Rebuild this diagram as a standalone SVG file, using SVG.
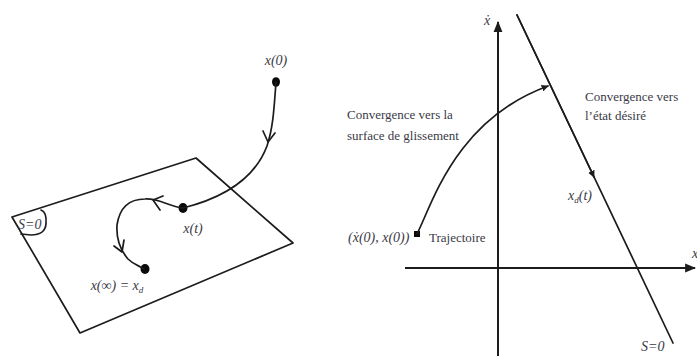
<svg xmlns="http://www.w3.org/2000/svg" width="697" height="356" viewBox="0 0 697 356">
<defs>
<style>
.ln{fill:none;stroke:#1c1c1c;stroke-width:1.7;stroke-linejoin:round;stroke-linecap:round}
.ax{fill:none;stroke:#1c1c1c;stroke-width:2}
.lbl{font-family:"Liberation Serif","DejaVu Serif",serif;font-size:13px;fill:#3a3a46}
.math{font-family:"Liberation Serif","DejaVu Serif",serif;font-size:14px;font-style:italic;fill:#3a3a46}
.dot{fill:#0a0a0a}
</style>
<marker id="tri" viewBox="0 0 10 10" refX="9" refY="5" markerWidth="7" markerHeight="7" markerUnits="userSpaceOnUse" orient="auto">
<path d="M0 0 L10 5 L0 10 Z" fill="#1c1c1c"/>
</marker>
<marker id="tri2" viewBox="0 0 10 10" refX="9" refY="5" markerWidth="11" markerHeight="11" markerUnits="userSpaceOnUse" orient="auto">
<path d="M0 1 L10 5 L0 9 Z" fill="#1c1c1c"/>
</marker>
</defs>
<rect width="697" height="356" fill="#ffffff"/>

<!-- Left: sliding surface plane -->
<g id="plane">
<path class="ln" d="M12 217 L196 158 L293 243 L80 333 Z"/>
<path class="ln" d="M41 210 Q47 212 46 224 Q45 235 31 235 L21 234" stroke-width="1.2"/>
<text class="math" x="18" y="229" font-size="12">S=0</text>
</g>

<g id="x0">
<ellipse class="dot" cx="276" cy="82" rx="4" ry="4.8"/>
<text class="math" x="276" y="65" text-anchor="middle">x(0)</text>
</g>
<g id="xt">
<ellipse class="dot" cx="183" cy="208" rx="4.5" ry="5"/>
<text class="math" x="193" y="233" text-anchor="middle">x(t)</text>
</g>
<g id="xinf">
<ellipse class="dot" cx="145" cy="269" rx="4.5" ry="5"/>
<text class="math" x="117" y="290" text-anchor="middle">x(∞) = x<tspan font-size="9" dy="3">d</tspan></text>
</g>

<g id="connectors-left">
<path class="ln" d="M276 82 C274 110 273 128 267 146 C258 170 235 195 183 208"/>
<path class="ln" d="M263 131 L268 142 L275 133"/>
<path class="ln" d="M183 208 C168 206 158 198 145 199 C132 199 120 205 117 225 C116 240 122 252 128 259 C134 265 140 266 144 269"/>
<path class="ln" d="M163 196 L153 200 L160 210"/>
<path class="ln" d="M114 246 L122 252 L124 240"/>
</g>

<!-- Right: phase plane -->
<g id="axes">
<line class="ax" x1="498" y1="356" x2="498" y2="22" marker-end="url(#tri2)"/>
<line class="ax" x1="405" y1="268" x2="695" y2="268" marker-end="url(#tri2)"/>
<text class="math" x="487" y="25" text-anchor="middle">ẋ</text>
<text class="math" x="692" y="258">x</text>
</g>

<g id="surface">
<line class="ln" x1="517" y1="15" x2="673" y2="343"/>
<path class="ln" d="M517 15 L594 177" marker-end="url(#tri)"/>
<text class="math" x="641" y="351">S=0</text>
<text class="math" x="568" y="200">x<tspan font-size="9" dy="3">d</tspan><tspan dy="-3">(t)</tspan></text>
</g>

<g id="start">
<rect x="414" y="231" width="6" height="6" fill="#0a0a0a"/>
<text class="math" x="348" y="242" font-size="13">(ẋ(0), x(0))</text>
<text class="lbl" x="429" y="242">Trajectoire</text>
</g>

<g id="connectors-right">
<path class="ln" d="M417 234 C432 205 455 120 548 86" marker-end="url(#tri)"/>
</g>

<g id="labels">
<text class="lbl" x="347" y="119">Convergence vers la</text>
<text class="lbl" x="347" y="140">surface de glissement</text>
<text class="lbl" x="585" y="101">Convergence vers</text>
<text class="lbl" x="585" y="120">l’état désiré</text>
</g>
</svg>
